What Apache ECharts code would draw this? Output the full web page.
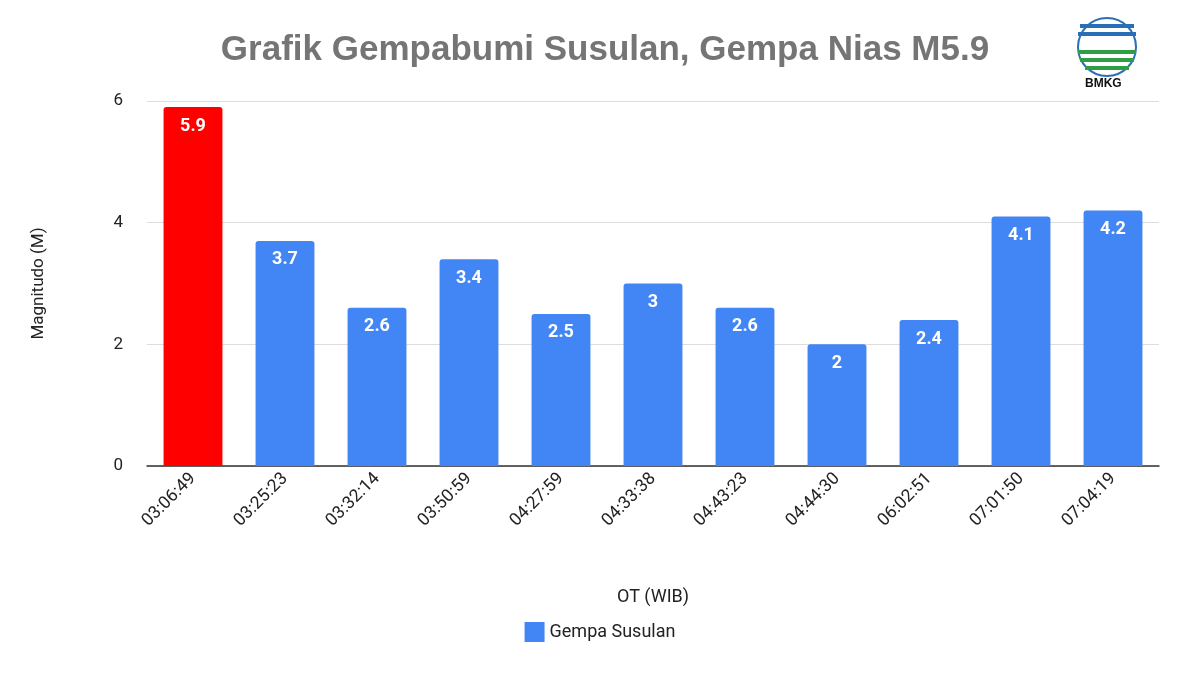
<!DOCTYPE html>
<html><head><meta charset="utf-8">
<script src="https://cdn.jsdelivr.net/npm/echarts@6/dist/echarts.min.js"></script>
<style>html,body{margin:0;padding:0;background:#fff}#c{width:1200px;height:675px}</style>
</head><body><div id="c"></div>
<script>
const categories = ['03:06:49','03:25:23','03:32:14','03:50:59','04:27:59','04:33:38','04:43:23','04:44:30','06:02:51','07:01:50','07:04:19'];
const magnitudes = [5.9,3.7,2.6,3.4,2.5,3,2.6,2,2.4,4.1,4.2];
const yTicks = [0,2,4,6];
const chart = echarts.init(document.getElementById('c'));
const font = 'Roboto, Arial, sans-serif';
chart.setOption({
  animation:false,
  title:{text:'Grafik Gempabumi Susulan, Gempa Nias M5.9',left:600,textAlign:'center',top:28,
    textStyle:{fontFamily:'Arial, Liberation Sans, sans-serif',fontSize:35,fontWeight:'bold',color:'#757575'}},
  grid:{left:147,right:41,top:101,bottom:209},
  legend:{bottom:28,left:'center',itemWidth:20,itemHeight:20,icon:'rect',
    textStyle:{fontFamily:font,fontSize:18,color:'#222'},data:['Gempa Susulan']},
  xAxis:{type:'category',data:categories,name:'OT (WIB)',nameLocation:'middle',nameGap:122,
    nameTextStyle:{fontFamily:font,fontSize:18,color:'#222'},
    axisTick:{show:false},axisLine:{lineStyle:{color:'#333',width:1.5}},
    axisLabel:{rotate:45,fontFamily:font,fontSize:17.5,color:'#222',margin:10}},
  yAxis:{type:'value',min:0,max:6,interval:2,name:'Magnitudo (M)',nameLocation:'middle',nameGap:100,
    nameTextStyle:{fontFamily:font,fontSize:17,color:'#222'},
    axisLabel:{fontFamily:font,fontSize:17,color:'#222',margin:24,formatter:v=>yTicks.includes(v)?String(v):''},
    splitLine:{lineStyle:{color:'#ddd'}}},
  series:[{name:'Gempa Susulan',type:'bar',barCategoryGap:'36%',
    data:magnitudes.map((v,i)=>i===0?{value:v,itemStyle:{color:'#ff0000'}}:v),
    itemStyle:{color:'#4285f4',borderRadius:[3,3,0,0]},
    label:{show:true,position:'insideTop',distance:10,color:'#fff',fontFamily:font,fontSize:18,fontWeight:'bold'}}],
  graphic:[
    {type:'circle',shape:{cx:1107,cy:47,r:29},style:{fill:'#fff',stroke:'#2a6fb5',lineWidth:2}},
    {type:'rect',shape:{x:1080,y:24,width:54,height:4},style:{fill:'#2a6fb5'}},
    {type:'rect',shape:{x:1078,y:32,width:58,height:4},style:{fill:'#2a6fb5'}},
    {type:'rect',shape:{x:1078,y:50,width:58,height:4},style:{fill:'#2e9e44'}},
    {type:'rect',shape:{x:1080,y:58,width:54,height:4},style:{fill:'#2e9e44'}},
    {type:'rect',shape:{x:1085,y:66,width:44,height:4},style:{fill:'#2e9e44'}},
    {type:'text',left:1085,top:78,style:{text:'BMKG',fontFamily:'Arial, sans-serif',fontSize:12,fontWeight:'bold',fill:'#111'}}
  ]
});
</script></body></html>
